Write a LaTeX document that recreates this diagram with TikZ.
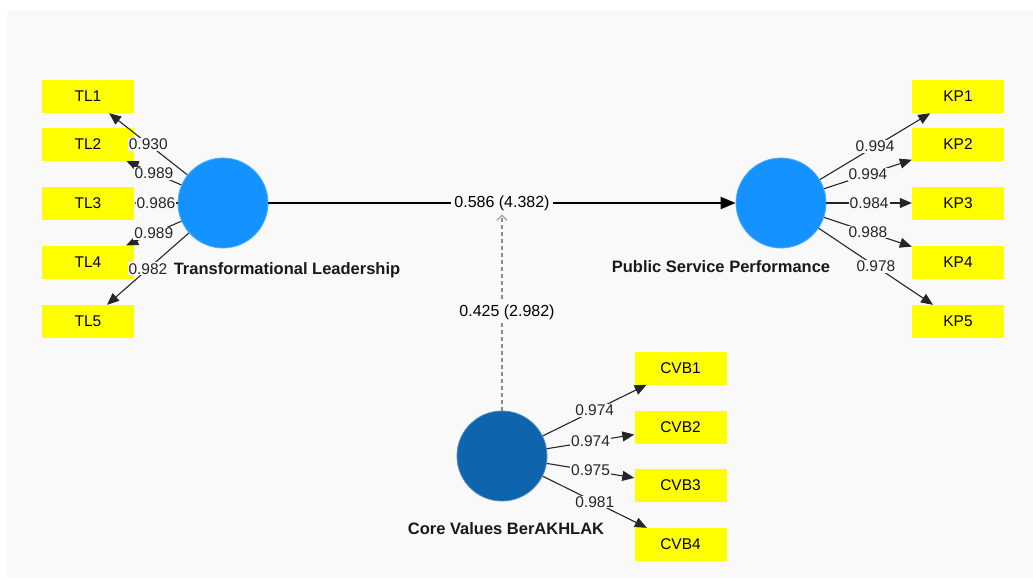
\documentclass[tikz,border=0pt]{standalone}
\usepackage{fontspec}
\setmainfont{Liberation Sans}
\usetikzlibrary{arrows.meta}

\definecolor{panel}{HTML}{F9F9F9}
\definecolor{lvlight}{HTML}{1492FF}
\definecolor{lvdark}{HTML}{0F64AE}
\definecolor{indfill}{HTML}{FFFF00}
\definecolor{modline}{HTML}{7F917F}
\definecolor{numtext}{HTML}{262626}

\tikzset{
  latent/.style={circle, minimum size=90pt, inner sep=0pt, fill=#1, draw=#1!75!white, line width=0.8pt},
  latentname/.style={font=\fontsize{16.5}{19}\selectfont\bfseries, text=black!90, inner sep=0pt},
  indicator/.style={rectangle, minimum width=92pt, minimum height=33pt, inner sep=0pt,
    fill=indfill, font=\fontsize{15.5}{18}\selectfont, text=black},
  loading/.style={draw=black!85, line width=1.1pt, -{Triangle[length=12pt,width=10pt]}},
  loadlbl/.style={fill=panel, inner sep=1pt, font=\fontsize{15.5}{18}\selectfont, text=numtext},
  mainpath/.style={draw=black, line width=2pt, -{Triangle[length=15pt,width=12pt]}},
  pathlbl/.style={fill=panel, inner xsep=3pt, inner ysep=3pt, font=\fontsize{16}{19}\selectfont, text=black},
  modpath/.style={draw=modline, line width=2.5pt, dash pattern=on 4pt off 3pt,
    -{Straight Barb[length=5pt,width=10pt,line width=1.2pt,color=modline!80!white]}},
}

\begin{document}
\begin{tikzpicture}[x=1pt, y=-1pt]
  \useasboundingbox (0,0) rectangle (1033,579);
  \fill[white] (0,0) rectangle (1033,579);
  \fill[panel] (7,11) rectangle (1033,578);

  % latent variables
  \node[latent=lvlight] (tl)  at (223,203) {};
  \node[latent=lvlight] (psp) at (781,203) {};
  \node[latent=lvdark]  (cvb) at (502,456) {};

  \node[latentname] (tlname)  at (287,270) {Transformational Leadership};
  \node[latentname] (pspname) at (721,267) {Public Service Performance};
  \node[latentname] (cvbname) at (506,529) {Core Values BerAKHLAK};

  % indicators of Transformational Leadership
  \node[indicator] (tl1) at (88,96.5)  {TL1};
  \node[indicator] (tl2) at (88,144.5) {TL2};
  \node[indicator] (tl3) at (88,203)   {TL3};
  \node[indicator] (tl4) at (88,262)   {TL4};
  \node[indicator] (tl5) at (88,321.5) {TL5};

  % indicators of Public Service Performance
  \node[indicator] (kp1) at (958,96.5)  {KP1};
  \node[indicator] (kp2) at (958,144.5) {KP2};
  \node[indicator] (kp3) at (958,203)   {KP3};
  \node[indicator] (kp4) at (958,262)   {KP4};
  \node[indicator] (kp5) at (958,321.5) {KP5};

  % indicators of Core Values BerAKHLAK
  \node[indicator] (cvb1) at (680.5,368)   {CVB1};
  \node[indicator] (cvb2) at (680.5,427)   {CVB2};
  \node[indicator] (cvb3) at (680.5,485.5) {CVB3};
  \node[indicator] (cvb4) at (680.5,544.5) {CVB4};

  % outer loadings
  \draw[loading] (tl) -- node[loadlbl] {0.930} (tl1);
  \draw[loading] (tl) -- node[loadlbl] {0.989} (tl2);
  \draw[loading] (tl) -- node[loadlbl] {0.986} (tl3);
  \draw[loading] (tl) -- node[loadlbl] {0.989} (tl4);
  \draw[loading] (tl) -- node[loadlbl] {0.982} (tl5);

  \draw[loading] (psp) -- node[loadlbl] {0.994} (kp1);
  \draw[loading] (psp) -- node[loadlbl] {0.994} (kp2);
  \draw[loading] (psp) -- node[loadlbl] {0.984} (kp3);
  \draw[loading] (psp) -- node[loadlbl] {0.988} (kp4);
  \draw[loading] (psp) -- node[loadlbl] {0.978} (kp5);

  \draw[loading] (cvb) -- node[loadlbl] {0.974} (cvb1);
  \draw[loading] (cvb) -- node[loadlbl] {0.974} (cvb2);
  \draw[loading] (cvb) -- node[loadlbl] {0.975} (cvb3);
  \draw[loading] (cvb) -- node[loadlbl] {0.981} (cvb4);

  % structural path and moderating effect
  \draw[mainpath] (tl) -- node[pathlbl] (coef) {0.586 (4.382)} (psp);
  \draw[modpath] (cvb) -- node[pathlbl, xshift=5pt] {0.425 (2.982)} (coef);
\end{tikzpicture}
\end{document}
